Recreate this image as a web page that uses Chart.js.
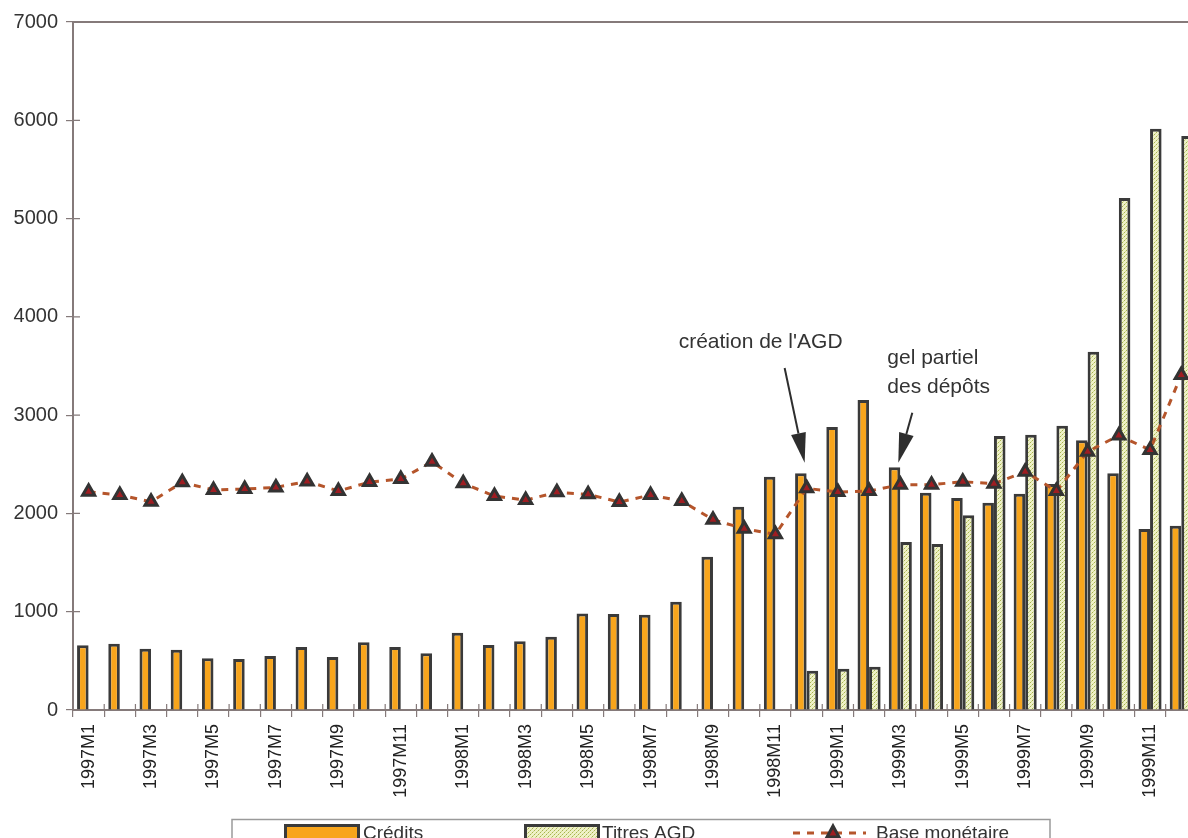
<!DOCTYPE html>
<html>
<head>
<meta charset="utf-8">
<script src="https://cdn.jsdelivr.net/npm/chart.js@4/dist/chart.umd.min.js"></script>
<style>
html,body{margin:0;padding:0;background:#fff;overflow:hidden;width:1188px;height:838px;}
#wrap{position:absolute;left:0;top:0;width:1210px;height:838px;}
</style>
</head>
<body>
<div id="wrap"><canvas id="c"></canvas></div>
<script>
const labels = ['1997M1','1997M2','1997M3','1997M4','1997M5','1997M6','1997M7','1997M8','1997M9','1997M10','1997M11','1997M12',
                '1998M1','1998M2','1998M3','1998M4','1998M5','1998M6','1998M7','1998M8','1998M9','1998M10','1998M11','1998M12',
                '1999M1','1999M2','1999M3','1999M4','1999M5','1999M6','1999M7','1999M8','1999M9','1999M10','1999M11','1999M12'];
const credits = [660,675,624,614,526,519,549,641,539,689,641,577,
                 787,661,699,746,983,977,970,1102,1560,2068,2373,2408,
                 2879,3154,2469,2211,2157,2109,2200,2299,2744,2408,1841,1875];
const titres = [null,null,null,null,null,null,null,null,null,null,null,null,
                null,null,null,null,null,null,null,null,null,null,null,400,
                420,440,1709,1689,1981,2787,2801,2892,3645,5210,5915,5840];
const baseMonetaire = [2220,2187,2119,2316,2238,2248,2265,2326,2228,2319,2350,2526,
                       2306,2177,2136,2215,2194,2116,2187,2126,1936,1844,1787,2255,
                       2218,2228,2292,2292,2323,2302,2424,2228,2628,2794,2645,3408];
const yTicks = [0,1000,2000,3000,4000,5000,6000,7000];

const FONT = '"Liberation Sans", Arial, sans-serif';
const AXIS = '#857a7a';
const TXT = '#333333';
const ORANGE = '#f8a51c';
const EDGE = '#3a3a3a';
const LINEC = '#b5552b';

const canvas = document.getElementById('c');
const ctx0 = canvas.getContext('2d');
function makePattern(){
  const c = document.createElement('canvas'); c.width = 4; c.height = 4;
  const g = c.getContext('2d');
  g.fillStyle = '#eff1c8'; g.fillRect(0,0,4,4);
  g.fillStyle = '#a7b44e'; g.fillRect(0,0,1,1); g.fillRect(2,2,1,1);
  g.fillStyle = '#cfd78e'; g.fillRect(3,1,1,1); g.fillRect(1,3,1,1);
  return ctx0.createPattern(c,'repeat');
}
const PAT = makePattern();

function arrow(ctx, x1, y1, x2, y2){
  const ang = Math.atan2(y2-y1, x2-x1);
  const L = 30, W = 7.5;
  const bx = x2 - L*Math.cos(ang), by = y2 - L*Math.sin(ang);
  ctx.save();
  ctx.strokeStyle = '#2e2e2e'; ctx.fillStyle = '#2e2e2e'; ctx.lineWidth = 2;
  ctx.beginPath(); ctx.moveTo(x1,y1); ctx.lineTo(bx,by); ctx.stroke();
  ctx.beginPath();
  ctx.moveTo(x2,y2);
  ctx.lineTo(bx + W*Math.sin(ang), by - W*Math.cos(ang));
  ctx.lineTo(bx - W*Math.sin(ang), by + W*Math.cos(ang));
  ctx.closePath(); ctx.fill();
  ctx.restore();
}

const deco = {
  id: 'deco',
  afterDraw(chart){
    const ctx = chart.ctx, a = chart.chartArea;
    const xs = chart.scales.x, ys = chart.scales.y;
    ctx.save();
    ctx.strokeStyle = AXIS; ctx.lineWidth = 2;
    ctx.beginPath(); ctx.moveTo(a.left, a.top); ctx.lineTo(a.right+10, a.top); ctx.stroke();
    ctx.lineWidth = 1.2;
    ctx.beginPath();
    yTicks.forEach(v => { const y = ys.getPixelForValue(v); ctx.moveTo(a.left, y); ctx.lineTo(a.left+7, y); });
    for (let i = 0; i <= labels.length; i++) {
      const x = a.left + i * (a.right - a.left) / labels.length;
      ctx.moveTo(x, a.bottom); ctx.lineTo(x, a.bottom-6);
    }
    ctx.stroke();

    ctx.fillStyle = TXT; ctx.font = '21px ' + FONT; ctx.textBaseline = 'middle'; ctx.textAlign = 'left';
    const c1 = xs.getPixelForValue(23);
    ctx.fillText("création de l'AGD", c1 - 128, ys.getPixelForValue(3740));
    arrow(ctx, c1 - 22, ys.getPixelForValue(3480), c1 - 2, ys.getPixelForValue(2515));
    const c2 = xs.getPixelForValue(26);
    ctx.fillText('gel partiel', c2 - 13, ys.getPixelForValue(3575));
    ctx.fillText('des dépôts', c2 - 13, ys.getPixelForValue(3280));
    arrow(ctx, c2 + 12, ys.getPixelForValue(3025), c2 - 2, ys.getPixelForValue(2515));

    ctx.strokeStyle = '#9a9a9a'; ctx.lineWidth = 1.5;
    ctx.strokeRect(232, 819.5, 818, 40);
    ctx.font = '19px ' + FONT; ctx.textBaseline = 'alphabetic'; ctx.fillStyle = TXT;
    ctx.lineWidth = 3; ctx.strokeStyle = EDGE;
    ctx.fillStyle = ORANGE; ctx.fillRect(284, 824, 76, 20); ctx.strokeRect(285.5, 825.5, 73, 20);
    ctx.fillStyle = PAT; ctx.fillRect(524, 824, 76, 20); ctx.strokeRect(525.5, 825.5, 73, 20);
    ctx.fillStyle = TXT;
    ctx.fillText('Crédits', 363, 839);
    ctx.fillText('Titres AGD', 602, 839);
    ctx.fillText('Base monétaire', 876, 839);
    ctx.strokeStyle = LINEC; ctx.lineWidth = 3; ctx.setLineDash([7,7]);
    ctx.beginPath(); ctx.moveTo(793, 833); ctx.lineTo(866, 833); ctx.stroke();
    ctx.setLineDash([]);
    ctx.fillStyle = '#9e1d22'; ctx.strokeStyle = '#333'; ctx.lineWidth = 3;
    ctx.beginPath(); ctx.moveTo(833, 826); ctx.lineTo(839, 837); ctx.lineTo(827, 837); ctx.closePath();
    ctx.fill(); ctx.stroke();
    ctx.restore();
  }
};

new Chart(canvas, {
  data: {
    labels: labels,
    datasets: [
      { type: 'line', label: 'Base monétaire', data: baseMonetaire, order: 0,
        borderColor: LINEC, borderWidth: 3, borderDash: [7,7], tension: 0, fill: false,
        pointStyle: 'triangle', pointRadius: 7, pointBackgroundColor: '#9e1d22',
        pointBorderColor: '#333333', pointBorderWidth: 3 },
      { type: 'bar', label: 'Crédits', data: credits, order: 1,
        backgroundColor: ORANGE, borderColor: EDGE, borderWidth: 3,
        categoryPercentage: 0.74, barPercentage: 1.0 },
      { type: 'bar', label: 'Titres AGD', data: titres, order: 2,
        backgroundColor: PAT, borderColor: EDGE, borderWidth: 3,
        categoryPercentage: 0.74, barPercentage: 1.0 }
    ]
  },
  options: {
    responsive: true, maintainAspectRatio: false, animation: false, devicePixelRatio: 1,
    layout: { padding: { top: 22, right: 4, left: 0, bottom: 0 } },
    plugins: { legend: { display: false }, tooltip: { enabled: false } },
    scales: {
      x: {
        type: 'category', offset: true,
        grid: { display: true, drawOnChartArea: false, drawTicks: true, tickLength: 7, color: AXIS, lineWidth: 1.2, offset: true },
        border: { display: true, color: AXIS, width: 2 },
        ticks: { autoSkip: false, maxRotation: 90, minRotation: 90, padding: 7, color: '#222',
                 font: { family: FONT, size: 18 },
                 callback: function(v, i){ return i % 2 === 0 ? labels[i] : ''; } },
        afterFit: function(s){ s.height = 128; }
      },
      y: {
        min: 0, max: 7000,
        afterBuildTicks: function(s){ s.ticks = yTicks.map(v => ({ value: v })); },
        grid: { display: true, drawOnChartArea: false, drawTicks: true, tickLength: 7, color: AXIS, lineWidth: 1.2 },
        border: { display: true, color: AXIS, width: 2 },
        ticks: { padding: 8, color: TXT, font: { family: FONT, size: 20 },
                 callback: function(v){ return String(v); } },
        afterFit: function(s){ s.width = 73; }
      }
    }
  },
  plugins: [deco]
});
</script>
</body>
</html>
